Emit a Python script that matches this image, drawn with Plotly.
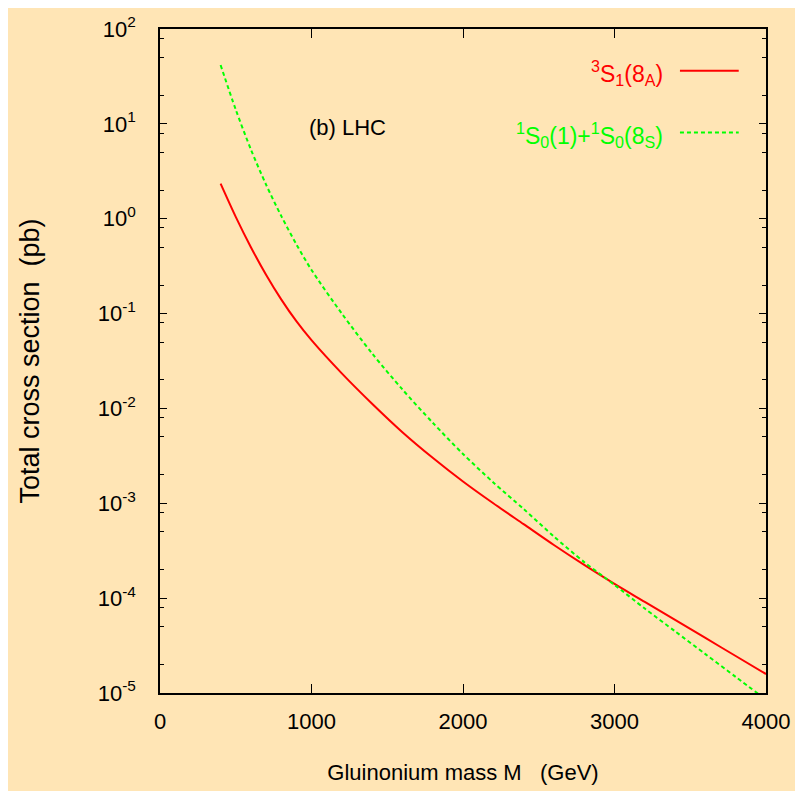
import plotly.graph_objects as go

# Gluinonium mass M (GeV)
mass = [400, 500, 600, 700, 800, 900, 1000, 1200, 1400, 1600, 1800, 2000,
        2200, 2400, 2600, 2800, 3000, 3200, 3400, 3600, 3800, 4000]

# log10 of cross sections (pb)
log_sigma_3S1 = [0.37, 0.02, -0.30, -0.59, -0.85, -1.08, -1.28, -1.63, -1.95, -2.25,
                 -2.52, -2.77, -3.00, -3.22, -3.44, -3.65, -3.85, -4.04, -4.23, -4.42,
                 -4.61, -4.80]
log_sigma_1S0 = [1.62, 1.15, 0.73, 0.36, 0.03, -0.27, -0.54, -1.00, -1.42, -1.80,
                 -2.15, -2.48, -2.78, -3.06, -3.35, -3.62, -3.86, -4.11, -4.35, -4.59,
                 -4.83, -5.07]

sigma_3S1 = [10 ** v for v in log_sigma_3S1]
sigma_1S0 = [10 ** v for v in log_sigma_1S0]

x_ticks = [0, 1000, 2000, 3000, 4000]
y_tick_exps = [-5, -4, -3, -2, -1, 0, 1, 2]
y_tickvals = [10 ** e for e in y_tick_exps]
y_ticktext = [f"10<sup>{e}</sup>" for e in y_tick_exps]
y_minor = [m * 10 ** e for e in range(-5, 2) for m in (2, 5, 8)]

label_3S1 = "<sup>3</sup>S<sub>1</sub>(8<sub>A</sub>)"
label_1S0 = "<sup>1</sup>S<sub>0</sub>(1)+<sup>1</sup>S<sub>0</sub>(8<sub>S</sub>)"

BG = "#FFE5B5"
FONT = "Liberation Sans, Arial, sans-serif"

fig = go.Figure()
fig.add_trace(go.Scatter(x=mass, y=sigma_3S1, mode="lines",
                         line=dict(color="#FF0000", width=2, shape="spline", smoothing=0.8),
                         showlegend=False))
fig.add_trace(go.Scatter(x=mass, y=sigma_1S0, mode="lines",
                         line=dict(color="#00FF00", width=2, dash="4px,3px",
                                   shape="spline", smoothing=0.8),
                         showlegend=False))

fig.update_layout(
    width=795, height=783,
    paper_bgcolor=BG, plot_bgcolor=BG,
    margin=dict(l=152, r=37, t=21, b=98),
    font=dict(family=FONT, size=22, color="black"),
    xaxis=dict(
        range=[0, 4000], tickmode="array", tickvals=x_ticks,
        ticks="inside", ticklen=9, tickwidth=1, tickcolor="black",
        showline=True, linecolor="black", linewidth=1.5, mirror="ticks",
        showgrid=False, zeroline=False, automargin=False,
        tickfont=dict(family=FONT, size=22), ticklabelstandoff=8,
        title=dict(text="Gluinonium mass M   (GeV)",
                   font=dict(family=FONT, size=22), standoff=31),
    ),
    yaxis=dict(
        type="log", range=[-5, 2], tickmode="array",
        tickvals=y_tickvals, ticktext=y_ticktext,
        ticks="inside", ticklen=7, tickwidth=1, tickcolor="black",
        minor=dict(tickmode="array", tickvals=y_minor, ticks="inside",
                   ticklen=4, tickwidth=1, tickcolor="black", showgrid=False),
        showline=True, linecolor="black", linewidth=1.5, mirror="ticks",
        showgrid=False, zeroline=False, automargin=False,
        tickfont=dict(family=FONT, size=22), ticklabelstandoff=18,
        title=dict(text="Total cross section  (pb)",
                   font=dict(family=FONT, size=27), standoff=50),
    ),
    annotations=[
        dict(text="(b) LHC", xref="paper", yref="paper", x=0.309, y=0.851,
             xanchor="center", yanchor="middle", showarrow=False,
             font=dict(family=FONT, size=22, color="black")),
        dict(text=label_3S1, xref="paper", yref="paper", x=0.833, y=0.934,
             xanchor="right", yanchor="middle", showarrow=False,
             font=dict(family=FONT, size=23, color="#FF0000")),
        dict(text=label_1S0, xref="paper", yref="paper", x=0.833, y=0.840,
             xanchor="right", yanchor="middle", showarrow=False,
             font=dict(family=FONT, size=23, color="#00FF00")),
    ],
    shapes=[
        dict(type="line", xref="paper", yref="paper", x0=0.858, x1=0.955,
             y0=0.937, y1=0.937, line=dict(color="#FF0000", width=2)),
        dict(type="line", xref="paper", yref="paper", x0=0.858, x1=0.955,
             y0=0.844, y1=0.844, line=dict(color="#00FF00", width=2, dash="4px,3px")),
    ],
)

fig.write_html("out.html")
